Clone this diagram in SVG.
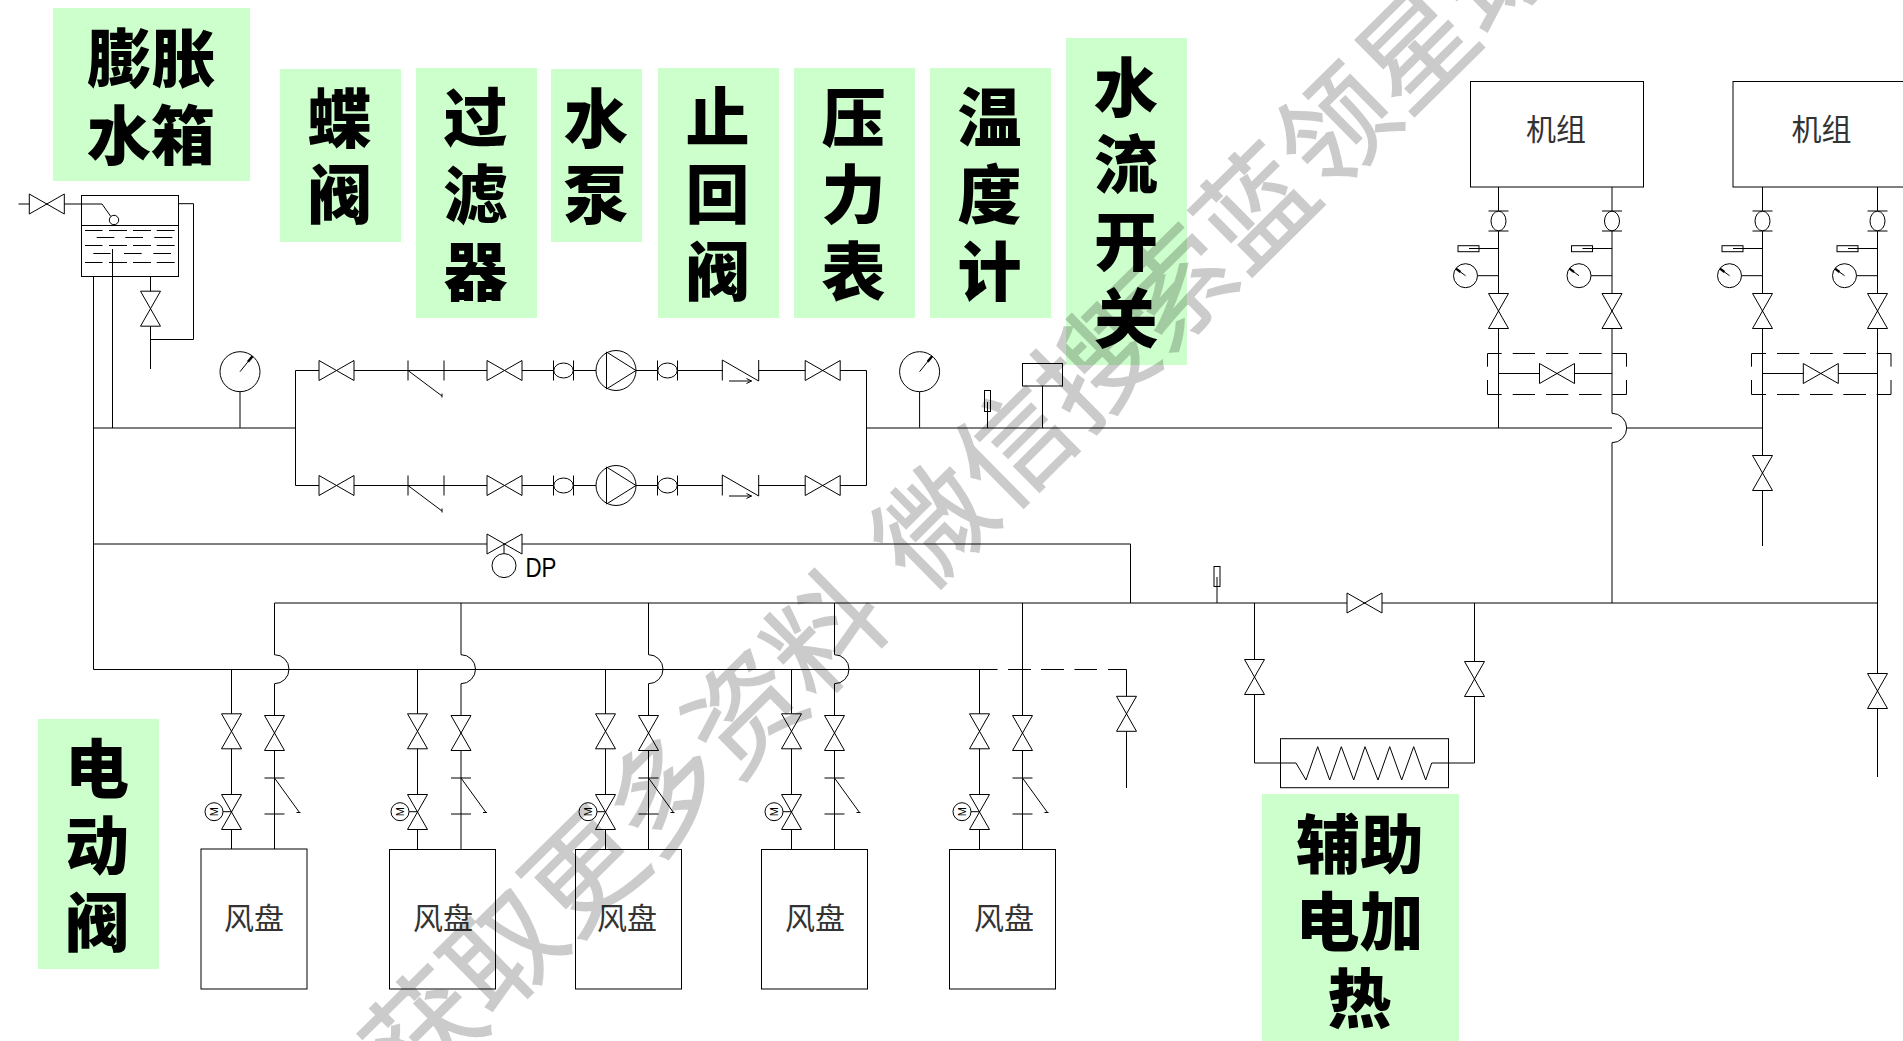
<svg xmlns="http://www.w3.org/2000/svg" width="1903" height="1041" viewBox="0 0 1903 1041">
<style>
.bg{fill:#ccffcc}
.lb{font-family:"Noto Sans CJK SC","Noto Sans",sans-serif;font-weight:900;font-size:64px;fill:#000;text-anchor:middle}
.tx{font-family:"Noto Sans CJK SC","Noto Sans",sans-serif;font-size:30px;fill:#333;text-anchor:middle}
.p{fill:none;stroke:#000;stroke-width:1}
.s{fill:#fff;stroke:#000;stroke-width:1}
.o{fill:none;stroke:#000;stroke-width:1}
.m{font-family:"Liberation Sans",sans-serif;font-size:11px;fill:#000;text-anchor:middle}
.wm{font-family:"Noto Sans CJK SC","Noto Sans",sans-serif;font-size:113px;fill:#000;stroke:#000;stroke-width:1.5;opacity:.2;word-spacing:15px}
</style>
<defs>
<path id="vh" class="s" d="M-17.5-10V10L17.5-10V10Z"/>
<path id="vv" class="s" d="M-10-17.5H10L-10 17.5H10Z"/>
<g id="flh"><path class="o" d="M-10-10V10M10-10V10"/><ellipse class="s" rx="9.7" ry="7.5"/></g>
<g id="flv"><path class="o" d="M-10-10H10M-10 10H10"/><ellipse class="s" rx="7.5" ry="9.8"/></g>
<g id="pump"><circle class="s" r="20"/><path class="o" d="M-9.500-18.500V18.500L20 0Z"/></g>
<path id="chk" class="o" d="M-18.200-10.500V10M-18.200-10.500L18.200 10.500M18.200-10.500V10.500M-11.500 10.500H11M6 8L11 10.500L6 13"/>
<path id="yh" class="o" d="M0-10V10M36-10V10M0 0L34 25.500M34 23V27"/>
<path id="yv" class="o" d="M-10 0H10M-10 36H10M0 0L25 34.500M22 34.500H26"/>
<g id="gg"><circle class="s" r="20"/><path class="o" d="M0 0L12 -15M0 56V20"/><path class="o" style="stroke-width:2.4" d="M8-10L12.500-15.500"/></g>
<g id="gs"><circle class="s" r="12"/><path class="o" d="M12 0H33M0 0L-9.500-7"/><path class="o" style="stroke-width:2.2" d="M-5-3.700L-9.500-7"/></g>
<g id="th"><rect class="s" x="-40.500" y="-2.800" width="21" height="6"/><path class="o" d="M-29.500 0H0"/></g>
</defs>

<g id="labels">
<g id="label-expansion"><rect class="bg" x="53" y="8" width="197" height="173"/><text class="lb" x="151.500" y="82">膨胀</text><text class="lb" x="151" y="159">水箱</text></g>
<g id="label-butterfly"><rect class="bg" x="280" y="69" width="121" height="173"/><text class="lb" x="339.500" y="142">蝶</text><text class="lb" x="339.500" y="218">阀</text></g>
<g id="label-filter"><rect class="bg" x="416" y="68" width="121" height="250"/><text class="lb" x="475.500" y="141">过</text><text class="lb" x="475.500" y="218">滤</text><text class="lb" x="475.500" y="295">器</text></g>
<g id="label-pump"><rect class="bg" x="551" y="69" width="91" height="173"/><text class="lb" x="596" y="142">水</text><text class="lb" x="596" y="218">泵</text></g>
<g id="label-check"><rect class="bg" x="658" y="68" width="121" height="250"/><text class="lb" x="717.500" y="141">止</text><text class="lb" x="717.500" y="218">回</text><text class="lb" x="717.500" y="295">阀</text></g>
<g id="label-pressure"><rect class="bg" x="794" y="68" width="121" height="250"/><text class="lb" x="853.500" y="141">压</text><text class="lb" x="853.500" y="218">力</text><text class="lb" x="853.500" y="295">表</text></g>
<g id="label-temp"><rect class="bg" x="930" y="68" width="121" height="250"/><text class="lb" x="989.500" y="141">温</text><text class="lb" x="989.500" y="218">度</text><text class="lb" x="989.500" y="295">计</text></g>
<g id="label-flow"><rect class="bg" x="1066" y="38" width="121" height="327"/><text class="lb" x="1126" y="111">水</text><text class="lb" x="1126" y="188">流</text><text class="lb" x="1126" y="265">开</text><text class="lb" x="1126" y="342">关</text></g>
<g id="label-motor"><rect class="bg" x="38" y="719" width="121" height="250"/><text class="lb" x="97" y="792">电</text><text class="lb" x="97" y="869">动</text><text class="lb" x="97" y="946">阀</text></g>
<g id="label-heater"><rect class="bg" x="1262" y="794" width="197" height="250"/><text class="lb" x="1360" y="868">辅助</text><text class="lb" x="1359.500" y="945">电加</text><text class="lb" x="1359.500" y="1022">热</text></g>
</g>

<g id="connectors">
<path class="p" d="M93.500 276.700V669.500M112.500 249V428M93.500 428H295.500M150.500 276.700V369M178.700 203.700H193.500V339.500H150.500M18.500 204H102L111 216.700"/>
<path class="p" d="M295.500 370.500V485.500H866.500V370.500H295.500"/>
<path class="p" d="M866.500 428H1612M1626.700 428H1762.500"/>
<path class="p" d="M1612 187V413.300A14.700 14.700 0 0 1 1612 442.700V603"/>
<path class="p" d="M1498.500 187V428M1762.500 187V546M1877.500 187V777"/>
<path class="p" d="M1498.500 373.500H1612M1762.500 373.500H1877.500"/>
<path class="p" d="M1487.500 366.700V353.500H1501.700M1512.700 353.500H1535M1546 353.500H1568.300M1579 353.500H1601.700M1612.300 353.500H1626.500V366.700M1487.500 380V394.500H1501.700M1512.700 394.500H1535M1546 394.500H1568.300M1579 394.500H1601.700M1612.300 394.500H1626.500V380"/>
<path class="p" d="M1751.500 366.700V353.500H1766M1777 353.500H1799.300M1810 353.500H1832.700M1843.300 353.500H1866M1876.700 353.500H1891V366.700M1751.500 380V394.500H1766M1777 394.500H1799.300M1810 394.500H1832.700M1843.300 394.500H1866M1876.700 394.500H1891V380"/>
<path class="p" d="M93.500 544H1130.500V603M274.500 603H1877.500"/>
<path class="p" d="M93.500 669.500H997.500"/>
<path class="p" d="M1008 669.500H1031M1041 669.500H1064M1074.500 669.500H1097M1108 669.500H1126.500V788"/>
<path class="p" d="M231.500 669.500V849M417.500 669.500V849M605.500 669.500V849M791.500 669.500V849M979.500 669.500V849"/>
<path class="p" d="M274.500 603V654.700A14.500 14.500 0 0 1 274.500 683.700V849M461 603V654.700A14.500 14.500 0 0 1 461 683.700V849M648.500 603V654.700A14.500 14.500 0 0 1 648.500 683.700V849M834.500 603V654.700A14.500 14.500 0 0 1 834.500 683.700V849M1022.500 603V849"/>
<path class="p" d="M1254.500 603V763H1296L1306 780L1317.700 746.700L1329.700 780L1341.300 746.700L1353.700 780L1365 746.700L1378 780L1389.700 746.700L1401.700 780L1413.700 746.700L1425.700 780L1431.700 763H1474.500V603"/>
<path class="p" d="M504 544V554"/>
</g>

<g id="tank"><rect class="o" x="81.500" y="195.500" width="97" height="81"/><path class="o" d="M81.500 225.500H178.500M85 230.500H102.500M109 230.500H127M133 230.500H151M156.700 230.500H174.700M96.700 237.500H114.300M125.300 237.500H143M154.300 237.500H172.300M85 245.500H102.500M109 245.500H127M133 245.500H151M156.700 245.500H174.700M93.300 253.500H110.700M124 253.500H141.700M153.300 253.500H171M85 262.500H102.500M109 262.500H127M133 262.500H151M156.700 262.500H174.700"/><circle class="s" cx="114" cy="220" r="4.700"/></g>
<g id="valve-tank-in"><use href="#vh" x="46.800" y="204"/></g>
<g id="valve-tank-drain"><use href="#vv" x="150.500" y="308.700"/></g>
<g id="gauge-in"><use href="#gg" x="240" y="371.700"/></g>
<g id="gauge-out"><use href="#gg" x="919.600" y="371.700"/></g>

<g id="pump-top"><use href="#vh" x="336.500" y="370.500"/><use href="#yh" x="408" y="370.500"/><use href="#vh" x="504.500" y="370.500"/><use href="#flh" x="563.500" y="370.500"/><use href="#pump" x="616" y="370.500"/><use href="#flh" x="667.500" y="370.500"/><g><rect x="723" y="368" width="35" height="5" fill="#fff"/><use href="#chk" x="740.500" y="370.500"/></g><use href="#vh" x="822.700" y="370.500"/></g>
<g id="pump-bottom"><use href="#vh" x="336.500" y="485.500"/><use href="#yh" x="408" y="485.500"/><use href="#vh" x="504.500" y="485.500"/><use href="#flh" x="563.500" y="485.500"/><use href="#pump" x="616" y="485.500"/><use href="#flh" x="667.500" y="485.500"/><g><rect x="723" y="483" width="35" height="5" fill="#fff"/><use href="#chk" x="740.500" y="485.500"/></g><use href="#vh" x="822.700" y="485.500"/></g>

<g id="thermo-main"><rect class="s" x="984.500" y="390.500" width="6" height="21"/><path class="o" d="M987.500 402V428"/></g>
<g id="flow-switch"><rect class="s" x="1022.500" y="363.500" width="40" height="22.500"/><path class="o" d="M1042.500 386V428"/></g>
<g id="dp-valve"><use href="#vh" x="504.500" y="544"/><circle class="s" cx="504" cy="565.600" r="12"/><text x="525.500" y="577" font-family="Liberation Sans, sans-serif" font-size="27" textLength="31" lengthAdjust="spacingAndGlyphs">DP</text></g>
<g id="thermo-return"><rect class="s" x="1214" y="566.500" width="6" height="20"/><path class="o" d="M1217 577V603"/></g>

<g id="unit-1"><rect class="s" x="1470.500" y="81.500" width="173" height="105.500"/><text class="tx" x="1556" y="139.500">机组</text></g>
<g id="unit-2"><rect class="s" x="1733" y="81.500" width="175" height="105.500"/><text class="tx" x="1821.500" y="139.500">机组</text></g>
<g id="unit-1-in"><use href="#flv" x="1498.500" y="221"/><use href="#th" x="1498.500" y="248.500"/><use href="#gs" x="1465.500" y="275.700"/><use href="#vv" x="1498.500" y="311"/></g>
<g id="unit-1-out"><use href="#flv" x="1612" y="221"/><use href="#th" x="1612" y="248.500"/><use href="#gs" x="1579" y="275.700"/><use href="#vv" x="1612" y="311"/></g>
<g id="unit-2-in"><use href="#flv" x="1762.500" y="221"/><use href="#th" x="1762.500" y="248.500"/><use href="#gs" x="1729.500" y="275.700"/><use href="#vv" x="1762.500" y="311"/></g>
<g id="unit-2-out"><use href="#flv" x="1877.500" y="221"/><use href="#th" x="1877.500" y="248.500"/><use href="#gs" x="1844.500" y="275.700"/><use href="#vv" x="1877.500" y="311"/></g>
<g id="bypass-1"><use href="#vh" x="1557" y="373.500"/></g>
<g id="bypass-2"><use href="#vh" x="1820.800" y="373.500"/></g>
<g id="valve-unit-drain"><use href="#vv" x="1762.500" y="473"/></g>
<g id="valve-right"><use href="#vv" x="1877.500" y="691"/></g>

<g id="fcu-1"><use href="#vv" x="231.500" y="731.300"/><use href="#vv" x="274.500" y="733"/><use href="#yv" x="274.500" y="778"/><use href="#vv" x="231.500" y="812"/><circle class="s" cx="214" cy="811.700" r="9"/><path class="o" d="M223 811.700H231.500"/><text class="m" transform="translate(218,811.700) rotate(-90)">M</text><rect class="s" x="201" y="849" width="106" height="140"/><text class="tx" x="254" y="929">风盘</text></g>
<g id="fcu-2"><use href="#vv" x="417.500" y="731.300"/><use href="#vv" x="461" y="733"/><use href="#yv" x="461" y="778"/><use href="#vv" x="417.500" y="812"/><circle class="s" cx="400" cy="811.700" r="9"/><path class="o" d="M409 811.700H417.500"/><text class="m" transform="translate(404,811.700) rotate(-90)">M</text><rect class="s" x="389.500" y="849.500" width="106" height="139.500"/><text class="tx" x="443" y="929">风盘</text></g>
<g id="fcu-3"><use href="#vv" x="605.500" y="731.300"/><use href="#vv" x="648.500" y="733"/><use href="#yv" x="648.500" y="778"/><use href="#vv" x="605.500" y="812"/><circle class="s" cx="588" cy="811.700" r="9"/><path class="o" d="M597 811.700H605.500"/><text class="m" transform="translate(592,811.700) rotate(-90)">M</text><rect class="s" x="575.500" y="849.500" width="106" height="139.500"/><text class="tx" x="627" y="929">风盘</text></g>
<g id="fcu-4"><use href="#vv" x="791.500" y="731.300"/><use href="#vv" x="834.500" y="733"/><use href="#yv" x="834.500" y="778"/><use href="#vv" x="791.500" y="812"/><circle class="s" cx="774" cy="811.700" r="9"/><path class="o" d="M783 811.700H791.500"/><text class="m" transform="translate(778,811.700) rotate(-90)">M</text><rect class="s" x="761.500" y="849.500" width="106" height="139.500"/><text class="tx" x="815" y="929">风盘</text></g>
<g id="fcu-5"><use href="#vv" x="979.500" y="731.300"/><use href="#vv" x="1022.500" y="733"/><use href="#yv" x="1022.500" y="778"/><use href="#vv" x="979.500" y="812"/><circle class="s" cx="962" cy="811.700" r="9"/><path class="o" d="M971 811.700H979.500"/><text class="m" transform="translate(966,811.700) rotate(-90)">M</text><rect class="s" x="949.500" y="849.500" width="106" height="139.500"/><text class="tx" x="1004" y="929">风盘</text></g>
<g id="valve-dashed"><use href="#vv" x="1126.500" y="713.800"/></g>

<g id="heater"><rect class="o" x="1280.500" y="738.700" width="168" height="49"/><use href="#vh" x="1364.500" y="603"/><use href="#vv" x="1254.500" y="677"/><use href="#vv" x="1474.500" y="679"/></g>

<g id="watermark"><text class="wm" transform="translate(824,632) rotate(-44.700)" x="-621.500" y="43">获取更多资料 微信搜索蓝领星球</text></g>
</svg>
